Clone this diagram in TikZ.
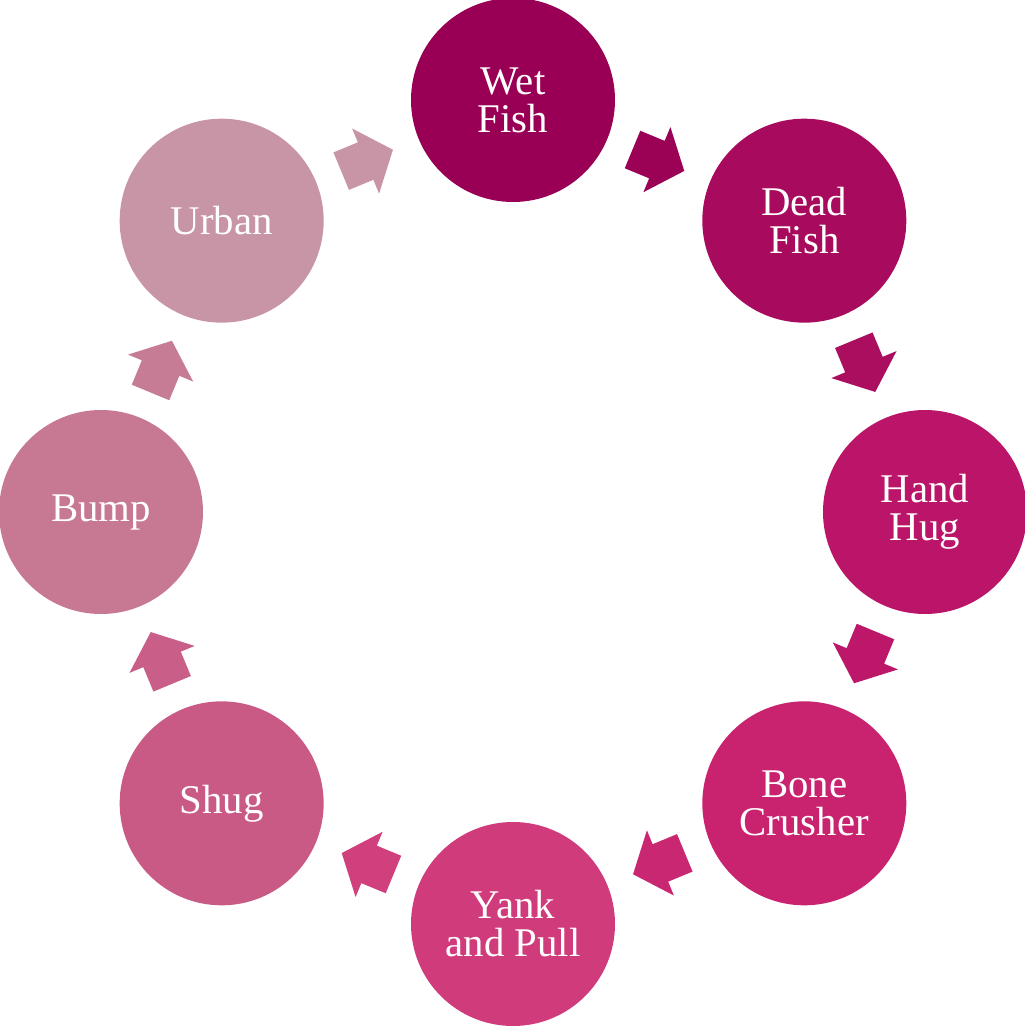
\documentclass[tikz,border=0pt]{standalone}
\usepackage{fontspec}
\setmainfont{Liberation Serif}
\usetikzlibrary{arrows.meta,positioning,shapes.arrows,calc}
\definecolor{wetc}{HTML}{990055}
\definecolor{deadc}{HTML}{A80B5E}
\definecolor{handc}{HTML}{BA1568}
\definecolor{bonec}{HTML}{C92370}
\definecolor{yankc}{HTML}{D03B7B}
\definecolor{shugc}{HTML}{C95A86}
\definecolor{bumpc}{HTML}{C77893}
\definecolor{urbanc}{HTML}{C895A6}

\begin{document}
\begin{tikzpicture}[
    stage/.style={circle, minimum size=5.1cm, inner sep=0pt, align=center, text=white,
      font=\fontsize{29}{27}\selectfont},
    flow/.style={single arrow, draw=none, inner xsep=0pt, inner ysep=0.5cm, minimum height=1.4cm,
      single arrow head extend=0.375cm, single arrow tip angle=100, rotate=#1, xshift=-0.22cm}
  ]
    \useasboundingbox (-12.825,-12.85) rectangle (12.8,12.8);
    \node[stage, fill=wetc] (wet) at (90:10.3) {Wet\\Fish};
    \node[stage, fill=deadc] (dead) at (45:10.3) {Dead\\Fish};
    \node[stage, fill=handc] (hand) at (0:10.3) {Hand\\Hug};
    \node[stage, fill=bonec] (bone) at (-45:10.3) {Bone\\Crusher};
    \node[stage, fill=yankc] (yank) at (-90:10.3) {Yank\\and Pull};
    \node[stage, fill=shugc] (shug) at (-135:10.3) {Shug};
    \node[stage, fill=bumpc] (bump) at (180:10.3) {Bump};
    \node[stage, fill=urbanc] (urban) at (135:10.3) {Urban};
    % arrows between neighbours
    \node[flow=-22.5, fill=wetc!85!deadc] (f1) at ($(wet)!0.5!(dead)$) {};
    \node[flow=-67.5, fill=deadc!85!handc] (f2) at ($(dead)!0.5!(hand)$) {};
    \node[flow=-112.5, fill=handc!85!bonec] (f3) at ($(hand)!0.5!(bone)$) {};
    \node[flow=-157.5, fill=bonec!85!yankc] (f4) at ($(bone)!0.5!(yank)$) {};
    \node[flow=157.5, fill=yankc!85!shugc] (f5) at ($(yank)!0.5!(shug)$) {};
    \node[flow=112.5, fill=shugc!85!bumpc] (f6) at ($(shug)!0.5!(bump)$) {};
    \node[flow=67.5, fill=bumpc!85!urbanc] (f7) at ($(bump)!0.5!(urban)$) {};
    \node[flow=22.5, fill=urbanc] (f8) at ($(urban)!0.5!(wet)$) {};
\end{tikzpicture}
\end{document}
